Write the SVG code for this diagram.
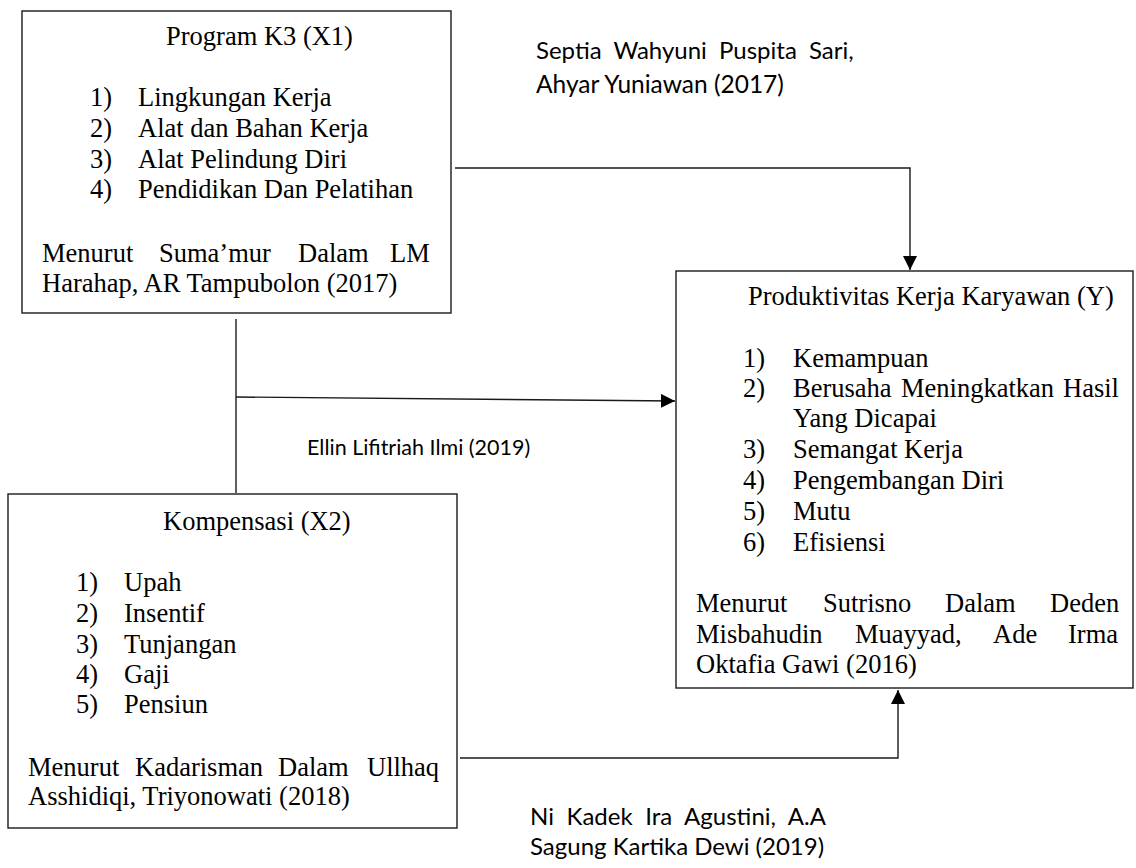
<svg xmlns="http://www.w3.org/2000/svg" width="1136" height="868" viewBox="0 0 1136 868">
<style>
.box{fill:#fff;stroke:#1a1a1a;stroke-width:1.4}
.ser{font-family:"Liberation Serif","Times New Roman",serif;font-size:26.5px;fill:#000}
.san{font-family:Lato,"Liberation Sans",sans-serif;fill:#000}
.ln{fill:none;stroke:#1a1a1a;stroke-width:1.4}
</style>
<defs>
<marker id="ah" viewBox="0 0 14 14" refX="14" refY="7" markerWidth="14" markerHeight="14" markerUnits="userSpaceOnUse" orient="auto">
<path d="M0,0 L14,7 L0,14 Z" fill="#000"/>
</marker>
</defs>
<rect width="1136" height="868" fill="#fff"/>
<g id="connectors">
<polyline class="ln" points="455,168 910,168 910,270" marker-end="url(#ah)"/>
<line class="ln" x1="236" y1="319" x2="236" y2="493"/>
<line class="ln" x1="236" y1="397" x2="675" y2="401" marker-end="url(#ah)"/>
<polyline class="ln" points="460,758 898,758 898,690" marker-end="url(#ah)"/>
</g>
<g id="x1">
<rect class="box" x="22" y="11" width="429" height="302"/>
<text class="ser" x="166" y="45">Program K3 (X1)</text>
<text class="ser"><tspan x="90" y="106">1)</tspan><tspan x="138" y="106">Lingkungan Kerja</tspan></text>
<text class="ser"><tspan x="90" y="137">2)</tspan><tspan x="138" y="137">Alat dan Bahan Kerja</tspan></text>
<text class="ser"><tspan x="90" y="167.5">3)</tspan><tspan x="138" y="167.5">Alat Pelindung Diri</tspan></text>
<text class="ser"><tspan x="90" y="198">4)</tspan><tspan x="138" y="198">Pendidikan Dan Pelatihan</tspan></text>
<text class="ser" y="262"><tspan x="42">Menurut</tspan><tspan x="159">Suma’mur</tspan><tspan x="298">Dalam</tspan><tspan x="390">LM</tspan></text>
<text class="ser" x="42" y="292">Harahap, AR Tampubolon (2017)</text>
</g>
<g id="y">
<rect class="box" x="676" y="271" width="457" height="417"/>
<text class="ser" x="748" y="305">Produktivitas Kerja Karyawan (Y)</text>
<text class="ser"><tspan x="743" y="367">1)</tspan><tspan x="793" y="367">Kemampuan</tspan></text>
<text class="ser" y="397"><tspan x="743">2)</tspan><tspan x="793">Berusaha</tspan><tspan x="901">Meningkatkan</tspan><tspan x="1063">Hasil</tspan></text>
<text class="ser" x="793" y="427">Yang Dicapai</text>
<text class="ser"><tspan x="743" y="458">3)</tspan><tspan x="793" y="458">Semangat Kerja</tspan></text>
<text class="ser"><tspan x="743" y="489">4)</tspan><tspan x="793" y="489">Pengembangan Diri</tspan></text>
<text class="ser"><tspan x="743" y="520">5)</tspan><tspan x="793" y="520">Mutu</tspan></text>
<text class="ser"><tspan x="743" y="551">6)</tspan><tspan x="793" y="551">Efisiensi</tspan></text>
<text class="ser" y="612"><tspan x="696">Menurut</tspan><tspan x="823">Sutrisno</tspan><tspan x="945">Dalam</tspan><tspan x="1050">Deden</tspan></text>
<text class="ser" y="643"><tspan x="696">Misbahudin</tspan><tspan x="855">Muayyad,</tspan><tspan x="993">Ade</tspan><tspan x="1068">Irma</tspan></text>
<text class="ser" x="696" y="673">Oktafia Gawi (2016)</text>
</g>
<g id="x2">
<rect class="box" x="8" y="494" width="449" height="334"/>
<text class="ser" x="163" y="530">Kompensasi (X2)</text>
<text class="ser"><tspan x="76" y="591">1)</tspan><tspan x="124" y="591">Upah</tspan></text>
<text class="ser"><tspan x="76" y="622">2)</tspan><tspan x="124" y="622">Insentif</tspan></text>
<text class="ser"><tspan x="76" y="653">3)</tspan><tspan x="124" y="653">Tunjangan</tspan></text>
<text class="ser"><tspan x="76" y="683">4)</tspan><tspan x="124" y="683">Gaji</tspan></text>
<text class="ser"><tspan x="76" y="713">5)</tspan><tspan x="124" y="713">Pensiun</tspan></text>
<text class="ser" y="776"><tspan x="28">Menurut</tspan><tspan x="135">Kadarisman</tspan><tspan x="278">Dalam</tspan><tspan x="367">Ullhaq</tspan></text>
<text class="ser" x="28" y="805">Asshidiqi, Triyonowati (2018)</text>
</g>
<g id="labels">
<text class="san" font-size="24" x="536" y="59" word-spacing="6">Septia Wahyuni Puspita Sari,</text>
<text class="san" font-size="24.5" x="536" y="93">Ahyar Yuniawan (2017)</text>
<text class="san" font-size="21.5" x="307" y="455">Ellin Lifitriah Ilmi (2019)</text>
<text class="san" font-size="24" x="530" y="825" word-spacing="6.5">Ni Kadek Ira Agustini, A.A</text>
<text class="san" font-size="24" x="530" y="855">Sagung Kartika Dewi (2019)</text>
</g>
</svg>
